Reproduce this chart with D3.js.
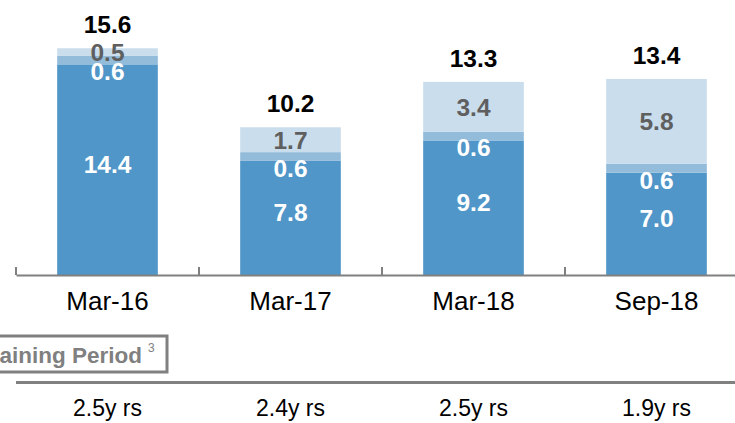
<!DOCTYPE html>
<html>
<head>
<meta charset="utf-8">
<script src="https://cdn.jsdelivr.net/npm/d3@7"></script>
<style>
  body { margin: 0; background: #fff; }
  svg { display: block; font-family: "Liberation Sans", Arial, sans-serif; }
</style>
</head>
<body>
<div id="chart"></div>
<script>
// data
var categories = ["Mar-16", "Mar-17", "Mar-18", "Sep-18"];
var baseValues = [14.4, 7.8, 9.2, 7.0];
var midValues = [0.6, 0.6, 0.6, 0.6];
var topValues = [0.5, 1.7, 3.4, 5.8];
var totals = [15.6, 10.2, 13.3, 13.4];
var periods = ["2.5y rs", "2.4y rs", "2.5y rs", "1.9y rs"];

var width = 735, height = 423;
var baseY = 275;
var valueFont = "24.5px";

var svg = d3.select("#chart").append("svg")
    .attr("width", width)
    .attr("height", height);

var x = d3.scaleBand()
    .domain(categories)
    .range([16, 748])
    .paddingInner(0.45)
    .paddingOuter(0.225);

var y = d3.scaleLinear()
    .domain([0, 18.8])
    .range([baseY, 0]);

var rows = categories.map(function (c, i) {
    return { cat: c, base: baseValues[i], mid: midValues[i], top: topValues[i], total: totals[i] };
});

var keys = ["base", "mid", "top"];
var colors = { base: "#5096c8", mid: "#93bcdb", top: "#c9ddec" };
var stacked = d3.stack().keys(keys)(rows);

// bars
svg.selectAll("g.layer")
    .data(stacked)
    .enter()
    .append("g")
    .attr("class", "layer")
    .attr("fill", function (d) { return colors[d.key]; })
    .selectAll("rect")
    .data(function (d) { return d; })
    .enter()
    .append("rect")
    .attr("x", function (d) { return x(d.data.cat); })
    .attr("width", x.bandwidth())
    .attr("y", function (d) { return y(d[1]); })
    .attr("height", function (d) { return y(d[0]) - y(d[1]); });

// axis
var axis = svg.append("g")
    .attr("transform", "translate(0," + baseY + ")")
    .call(d3.axisBottom(x).tickSize(0).tickSizeOuter(0).tickPadding(17));
axis.select(".domain").attr("stroke", "#808080").attr("stroke-width", 2);
axis.selectAll(".tick text")
    .attr("fill", "#000")
    .style("font-size", "26px")
    .style("font-family", "'Liberation Sans', Arial, sans-serif");

// separator ticks between categories
var edges = categories.map(function (c) { return x(c) - x.step() * 0.225; });
edges.push(x(categories[3]) + x.bandwidth() + x.step() * 0.225);
svg.selectAll("line.sep")
    .data(edges)
    .enter()
    .append("line")
    .attr("class", "sep")
    .attr("x1", function (d) { return d; })
    .attr("x2", function (d) { return d; })
    .attr("y1", baseY)
    .attr("y2", baseY - 8)
    .attr("stroke", "#808080")
    .attr("stroke-width", 2);

var cx = function (d) { return x(d.cat) + x.bandwidth() / 2; };

// total labels
svg.selectAll("text.total")
    .data(rows)
    .enter()
    .append("text")
    .attr("class", "total")
    .attr("x", cx)
    .attr("y", function (d) { return y(d.base + d.mid + d.top) - 15; })
    .attr("text-anchor", "middle")
    .style("font-size", valueFont)
    .style("font-weight", "bold")
    .attr("fill", "#000")
    .text(function (d) { return d.total.toFixed(1); });

// base segment labels
svg.selectAll("text.base")
    .data(rows)
    .enter()
    .append("text")
    .attr("x", cx)
    .attr("y", function (d) { return (y(0) + y(d.base)) / 2 + 3; })
    .attr("text-anchor", "middle")
    .style("font-size", valueFont)
    .style("font-weight", "bold")
    .attr("fill", "#fff")
    .text(function (d) { return d.base.toFixed(1); });

// middle segment labels (sit just under the thin segment)
svg.selectAll("text.mid")
    .data(rows)
    .enter()
    .append("text")
    .attr("x", cx)
    .attr("y", function (d) { return y(d.base) + 16; })
    .attr("text-anchor", "middle")
    .style("font-size", valueFont)
    .style("font-weight", "bold")
    .attr("fill", "#fff")
    .text(function (d) { return d.mid.toFixed(1); });

// top segment labels
svg.selectAll("text.top")
    .data(rows)
    .enter()
    .append("text")
    .attr("x", cx)
    .attr("y", function (d) { return (y(d.base + d.mid) + y(d.base + d.mid + d.top)) / 2 + 9; })
    .attr("text-anchor", "middle")
    .style("font-size", valueFont)
    .style("font-weight", "bold")
    .attr("fill", "#5f5f5f")
    .text(function (d) { return d.top.toFixed(1); });

// remaining period box
svg.append("rect")
    .attr("x", -60)
    .attr("y", 336)
    .attr("width", 227)
    .attr("height", 36)
    .attr("fill", "#fff")
    .attr("stroke", "#808080")
    .attr("stroke-width", 3);
svg.append("text")
    .attr("x", 142)
    .attr("y", 362.5)
    .attr("text-anchor", "end")
    .style("font-size", "22.5px")
    .style("font-weight", "bold")
    .attr("fill", "#808080")
    .text("Remaining Period");
svg.append("text")
    .attr("x", 148)
    .attr("y", 352)
    .style("font-size", "12px")
    .attr("fill", "#808080")
    .text("3");

svg.append("line")
    .attr("x1", 16)
    .attr("x2", width)
    .attr("y1", 382.5)
    .attr("y2", 382.5)
    .attr("stroke", "#808080")
    .attr("stroke-width", 3);

svg.selectAll("text.period")
    .data(periods)
    .enter()
    .append("text")
    .attr("x", function (d, i) { return x(categories[i]) + x.bandwidth() / 2; })
    .attr("y", 416)
    .attr("text-anchor", "middle")
    .style("font-size", "23px")
    .attr("fill", "#000")
    .text(function (d) { return d; });
</script>
</body>
</html>
